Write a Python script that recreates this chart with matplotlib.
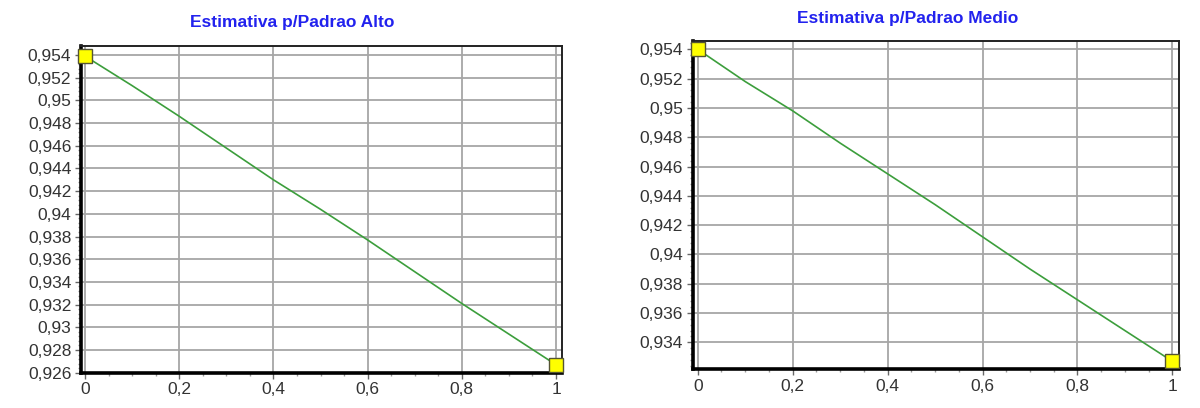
import matplotlib
matplotlib.use('Agg')
from matplotlib import pyplot as plt
from matplotlib.ticker import MultipleLocator, FuncFormatter

plt.rc('font', family='Liberation Sans')

# values
x_vals = [0.0, 0.1, 0.2, 0.3, 0.4, 0.5, 0.6, 0.7, 0.8, 0.9, 1.0]
alto = [0.9539, 0.9513, 0.9486, 0.9458, 0.9430, 0.9404,
        0.9377, 0.9349, 0.9321, 0.9294, 0.9267]
medio = [0.9540, 0.9518, 0.9498, 0.9476, 0.9455, 0.9434,
         0.9412, 0.9390, 0.9369, 0.9348, 0.9327]
titles = ['Estimativa p/Padrao Alto', 'Estimativa p/Padrao Medio']


def comma(v, pos):
    return ('%g' % round(v, 6)).replace('.', ',')


def draw(ax, y, xlim, ylim):
    ax.plot(x_vals, y, color='#3c9e3c', lw=1.2, zorder=3)
    ax.plot([x_vals[0], x_vals[-1]], [y[0], y[-1]], ls='', marker='s',
            ms=9.5, mfc='#ffff00', mec='#555533', mew=1.0, zorder=4,
            clip_on=False)
    ax.set_xlim(*xlim)
    ax.set_ylim(*ylim)
    ax.xaxis.set_major_locator(MultipleLocator(0.2))
    ax.xaxis.set_minor_locator(MultipleLocator(0.05))
    ax.yaxis.set_major_locator(MultipleLocator(0.002))
    ax.yaxis.set_minor_locator(MultipleLocator(0.0004))
    ax.xaxis.set_major_formatter(FuncFormatter(comma))
    ax.yaxis.set_major_formatter(FuncFormatter(comma))
    ax.grid(True, which='major', color='#a6a6a6', lw=1.3)
    ax.set_axisbelow(True)
    ax.tick_params(which='major', length=4, width=1, color='#666666',
                   labelsize=12.5, labelcolor='#333333', pad=3)
    ax.tick_params(which='minor', length=2.5, width=1, color='#999999')
    for side in ['left', 'bottom']:
        ax.spines[side].set_linewidth(2.6)
        ax.spines[side].set_color('black')
    for side in ['top', 'right']:
        ax.spines[side].set_linewidth(1.4)
        ax.spines[side].set_color('#222222')


fig = plt.figure(figsize=(12, 4.08), dpi=100)

ax1 = fig.add_axes([0.0675, 0.0865, 0.4006, 0.8007])
draw(ax1, alto, (-0.0085, 1.0121), (0.926, 0.95479))

ax2 = fig.add_axes([0.5773, 0.0949, 0.4053, 0.8047])
draw(ax2, medio, (-0.0105, 1.0141), (0.93216, 0.95457))

fig.text(292 / 1200, 1 - 22 / 408, titles[0], color='#2222ee',
         fontsize=12.5, fontweight='bold', ha='center', va='center')
fig.text(908 / 1200, 1 - 18 / 408, titles[1], color='#2222ee',
         fontsize=12.5, fontweight='bold', ha='center', va='center')

plt.savefig('out.png', dpi=100)
